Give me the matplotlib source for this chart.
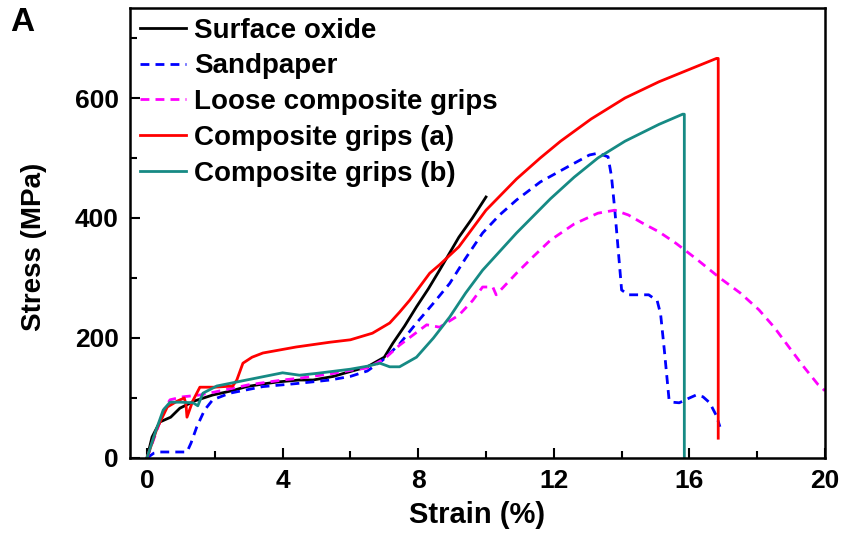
import numpy as np
import matplotlib.pyplot as plt
from matplotlib.ticker import MultipleLocator

plt.rcParams['font.family'] = ['Liberation Sans', 'DejaVu Sans']
plt.rcParams['font.weight'] = 'bold'

# strain (%) / stress (MPa)
oxide_x = [0, 0.15, 0.38, 0.7, 0.97, 1.4, 1.94, 2.5, 2.94, 3.5, 3.9, 4.5, 4.9, 5.5, 5.8, 6.5, 7.0, 7.25, 7.6, 7.95, 8.3, 8.63, 9.2, 9.6, 10.0]
oxide_y = [0, 35, 60, 68, 83, 95, 105, 112, 119, 124, 127, 130, 130, 136, 141, 152, 168, 191, 220, 252, 282, 313, 368, 400, 435]

sand_x = [0, 0.2, 0.38, 0.8, 1.18, 1.3, 1.47, 1.7, 1.94, 2.44, 3.42, 4.4, 5.4, 6.0, 6.5, 6.95, 7.45, 7.95, 8.45, 8.93, 9.4, 9.9, 10.4, 10.9, 11.6, 12.4, 13.05, 13.3, 13.6,
          13.7, 13.8, 13.9, 14.0, 14.2, 14.4, 14.8, 15.05, 15.15, 15.26, 15.4, 15.5, 15.7, 16.0, 16.2, 16.4, 16.6, 16.8, 16.9]
sand_y = [0, 8, 10, 10, 10, 25, 52, 80, 97, 108, 119, 124, 130, 136, 145, 163, 190, 225, 258, 291, 333, 375, 405, 430, 460, 485, 505, 508, 502,
          470, 413, 347, 280, 272, 272, 272, 262, 240, 180, 97, 93, 92, 100, 105, 102, 92, 70, 52]

loose_x = [0, 0.3, 0.5, 0.68, 1.06, 1.56, 2.0, 3.0, 4.0, 4.5, 5.5, 6.0, 6.5, 7.0, 7.45, 7.85, 8.25, 8.63, 9.2, 9.6, 9.9, 10.2, 10.3, 10.9, 11.4, 11.9, 12.6, 13.3, 13.8, 14.2,
           14.6, 15.1, 15.6, 16.2, 16.9, 17.5, 18.05, 18.5, 19.0, 19.4, 19.8, 20.0]
loose_y = [0, 47, 80, 97, 102, 105, 110, 122, 130, 133, 141, 146, 150, 165, 188, 205, 222, 218, 238, 262, 285, 285, 272, 308, 336, 363, 390, 408, 413, 405,
           392, 377, 358, 332, 300, 275, 247, 218, 180, 150, 122, 112]

comp_a_x = [0, 0.3, 0.6, 0.9, 1.1, 1.15, 1.18, 1.35, 1.56, 2.0, 2.53, 2.65, 2.83, 3.1, 3.42, 4.4, 5.4, 6.0, 6.65, 7.16, 7.45, 7.75, 8.34, 8.63, 9.2, 10.0,
            10.9, 11.6, 12.2, 13.1, 14.1, 15.1, 16.1, 16.8, 16.85, 16.85]
comp_a_y = [0, 50, 85, 95, 100, 90, 68, 95, 118, 118, 120, 130, 158, 168, 175, 185, 193, 197, 208, 225, 243, 263, 308, 322, 352, 413,
            465, 500, 528, 565, 600, 627, 650, 666, 666, 33]

comp_b_x = [0, 0.24, 0.48, 0.68, 1.0, 1.36, 1.5, 1.65, 2.06, 2.94, 4.0, 4.5, 5.0, 6.0, 6.5, 6.87, 7.16, 7.45, 7.95, 8.45, 8.93, 9.4, 9.9, 10.9, 11.9,
            12.6, 13.3, 14.1, 15.1, 15.8, 15.85, 15.85]
comp_b_y = [0, 42, 80, 93, 93, 92, 87, 108, 120, 130, 142, 138, 141, 148, 153, 158, 152, 152, 168, 200, 235, 275, 313, 375, 432,
            468, 500, 528, 556, 573, 573, -20]

fig = plt.figure(figsize=(8.41, 5.52), dpi=100)
ax = fig.add_axes([0.1546, 0.1703, 0.981 - 0.1546, 0.9855 - 0.1703])

dash = (0, (3.2, 2.2))
ax.plot(oxide_x, oxide_y, color='black', lw=2, label='Surface oxide')
ax.plot(sand_x, sand_y, color='#0000ff', lw=2, ls=dash, label='Sandpaper')
ax.plot(loose_x, loose_y, color='#ff00ff', lw=2, ls=dash, label='Loose composite grips')
ax.plot(comp_a_x, comp_a_y, color='#ff0000', lw=2, label='Composite grips (a)')
ax.plot(comp_b_x, comp_b_y, color='#168a84', lw=2, label='Composite grips (b)')

ax.set_xlim(-0.5, 20)
ax.set_ylim(0, 750)
ax.xaxis.set_major_locator(MultipleLocator(4))
ax.xaxis.set_minor_locator(MultipleLocator(2))
ax.yaxis.set_major_locator(MultipleLocator(200))
ax.yaxis.set_minor_locator(MultipleLocator(100))
ax.tick_params(which='both', direction='in', width=1.5, labelsize=19, pad=8)
ax.tick_params(which='major', length=7)
ax.tick_params(which='minor', length=5)
for s in ax.spines.values():
    s.set_linewidth(1.8)

ax.set_xlabel('Strain (%)', fontsize=21, fontweight='bold', labelpad=6)
ax.set_ylabel('Stress (MPa)', fontsize=20, fontweight='bold')
ax.yaxis.set_label_coords(-0.12, 0.47)

ax.legend(loc='upper left', bbox_to_anchor=(0.0, 1.0), frameon=False, fontsize=20,
          handlelength=1.65, handletextpad=0.32, labelspacing=0.35, borderaxespad=0.05,
          borderpad=0.3)

fig.text(0.012, 0.96, 'A', fontsize=24, fontweight='bold', va='center')

fig.savefig('out.png', dpi=100)
